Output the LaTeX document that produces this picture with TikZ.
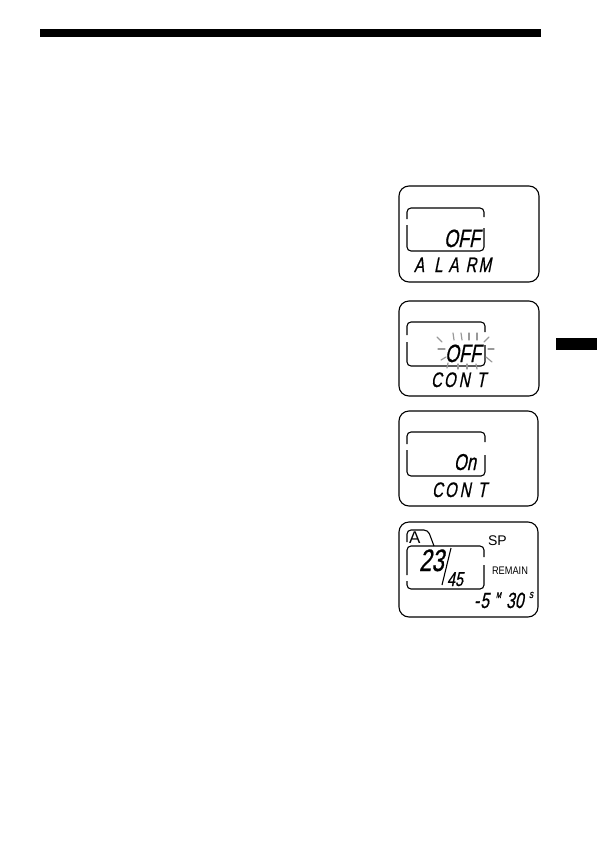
\documentclass[tikz,border=0pt]{standalone}
\usepackage{fontspec}
\newfontfamily\lcd[FakeStretch=0.72,FakeSlant=0.2,FakeBold=0.6]{Liberation Sans}
\newfontfamily\arial{Liberation Sans}
\newfontfamily\arialnarrow[FakeStretch=0.84]{Liberation Sans}
\begin{document}
\begin{tikzpicture}[x=1pt,y=-1pt,
  frame/.style={line width=1.1pt,rounded corners=10pt},
  inner/.style={line width=1.1pt,rounded corners=4pt},
  ray/.style={line width=1.2pt,black!40,line cap=round},
  txt/.style={inner sep=0pt,outer sep=0pt}]
\useasboundingbox (0,0) rectangle (597,841);
% top rule and side tab
\fill (40,29) rectangle (541,37);
\fill (556,338) rectangle (597,350);

% ---- panel 1 ----
\draw[frame] (399,186) rectangle (539,282);
\draw[inner] (407,219) -- (407,208) -- (484,208) -- (484,217);
\draw[inner] (407,225) -- (407,251) -- (484,251) -- (484,228);
\node[txt,anchor=base east,font=\lcd\fontsize{25}{25}\selectfont] (off1) at (480,247) {OFF};
\node[txt,anchor=base west,font=\lcd\fontsize{21}{21}\selectfont] (alarm) at (414,272) {A\kern10pt L\kern6pt A\kern7pt R\kern2pt M};

% ---- panel 2 ----
\draw[frame] (399,301) rectangle (539,396);
\draw[inner] (407,335) -- (407,322) -- (485,322) -- (485,332);
\draw[inner] (407,342) -- (407,366) -- (485,366) -- (485,345);
\node[txt,anchor=base east,font=\lcd\fontsize{25}{25}\selectfont] (off2) at (481,362) {OFF};
\node[txt,anchor=base west,font=\lcd\fontsize{21}{21}\selectfont] (cont1) at (431,387) {C\kern2pt O\kern3pt N\kern7pt T};
\draw[ray] (437,337) -- (442,342);
\draw[ray] (438,349) -- (445,349);
\draw[ray] (441,360) -- (446,357);
\draw[ray] (453,333) -- (454,340);
\draw[ray] (461,333) -- (462,340);
\draw[ray] (469,333) -- (469,340);
\draw[ray] (477,333) -- (477,340);
\draw[ray] (484,342) -- (489,337);
\draw[ray] (488,349) -- (494,349);
\draw[ray] (486,357) -- (492,362);
\draw[ray] (447,368) -- (448,363);
\draw[ray] (458,369) -- (458,364);
\draw[ray] (467,369) -- (467,364);
\draw[ray] (477,369) -- (476,364);

% ---- panel 3 ----
\draw[frame] (399,411) rectangle (538,506);
\draw[inner] (407,444) -- (407,432) -- (485,432) -- (485,442);
\draw[inner] (407,450) -- (407,476) -- (485,476) -- (485,455);
\node[txt,anchor=base east,font=\lcd\fontsize{23}{23}\selectfont] (on) at (476,470) {On};
\node[txt,anchor=base west,font=\lcd\fontsize{21}{21}\selectfont] (cont2) at (432,497) {C\kern2pt O\kern3pt N\kern7pt T};

% ---- panel 4 ----
\draw[frame] (399,522) rectangle (538,617);
\draw[inner] (407,542) -- (407,530) -- (428,530) -- (434,546);
\draw[inner] (407,575) -- (407,546) -- (484,546) -- (484,557);
\draw[inner] (407,581) -- (407,589) -- (484,589) -- (484,565);
\node[txt,anchor=base west,font=\arial\fontsize{17}{17}\selectfont] (tabA) at (409,543) {A};
\node[txt,anchor=base west,font=\arial\fontsize{14}{14}\selectfont] (sp) at (488,545) {SP};
\node[txt,anchor=base west,font=\arialnarrow\fontsize{11}{11}\selectfont] (remain) at (492,574) {REMAIN};
\node[txt,anchor=base west,font=\lcd\fontsize{31}{31}\selectfont] (num23) at (419,571) {23};
\draw[line width=1.1pt] (451,548) -- (442,585);
\node[txt,anchor=base west,font=\lcd\fontsize{20}{20}\selectfont] (num45) at (447,586) {45};
\node[txt,anchor=base west,font=\lcd\fontsize{22}{22}\selectfont] (min) at (474,608) {-\kern1pt 5};
\node[txt,anchor=base west,font=\lcd\fontsize{8.5}{8.5}\selectfont] (msup) at (496,598) {M};
\node[txt,anchor=base west,font=\lcd\fontsize{22}{22}\selectfont] (sec) at (506,608) {30};
\node[txt,anchor=base west,font=\lcd\fontsize{11.5}{11.5}\selectfont] (ssup) at (529,598) {s};
\end{tikzpicture}
\end{document}
